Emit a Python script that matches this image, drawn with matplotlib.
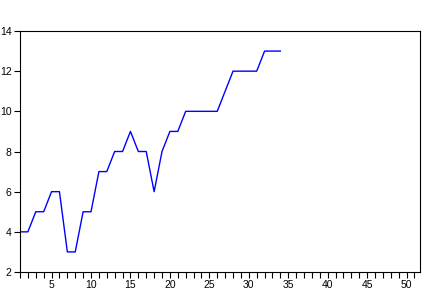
import matplotlib
matplotlib.use("Agg")
import matplotlib.pyplot as plt
from matplotlib.ticker import MultipleLocator

obs = list(range(1, 35))
values = [4, 4, 5, 5, 6, 6, 3, 3, 5, 5, 7, 7, 8, 8, 9, 8, 8, 6, 8, 9,
          9, 10, 10, 10, 10, 10, 11, 12, 12, 12, 12, 13, 13, 13]

plt.rcParams["font.family"] = ["Liberation Sans", "DejaVu Sans"]

fig = plt.figure(figsize=(4.22, 2.93), dpi=100)
ax = fig.add_axes([20 / 422, 21 / 293, 400 / 422, 241 / 293])
ax.plot(obs, values, color="blue", linewidth=1)

ax.set_xlim(1, 51.7)
ax.set_ylim(2, 14)
ax.xaxis.set_major_locator(MultipleLocator(5))
ax.xaxis.set_minor_locator(MultipleLocator(1))
ax.yaxis.set_major_locator(MultipleLocator(2))
ax.tick_params(axis="both", which="both", direction="out", labelsize=7.5,
               length=4, width=0.8, pad=2)
for s in ax.spines.values():
    s.set_linewidth(0.8)

fig.savefig("out.png", dpi=100)
